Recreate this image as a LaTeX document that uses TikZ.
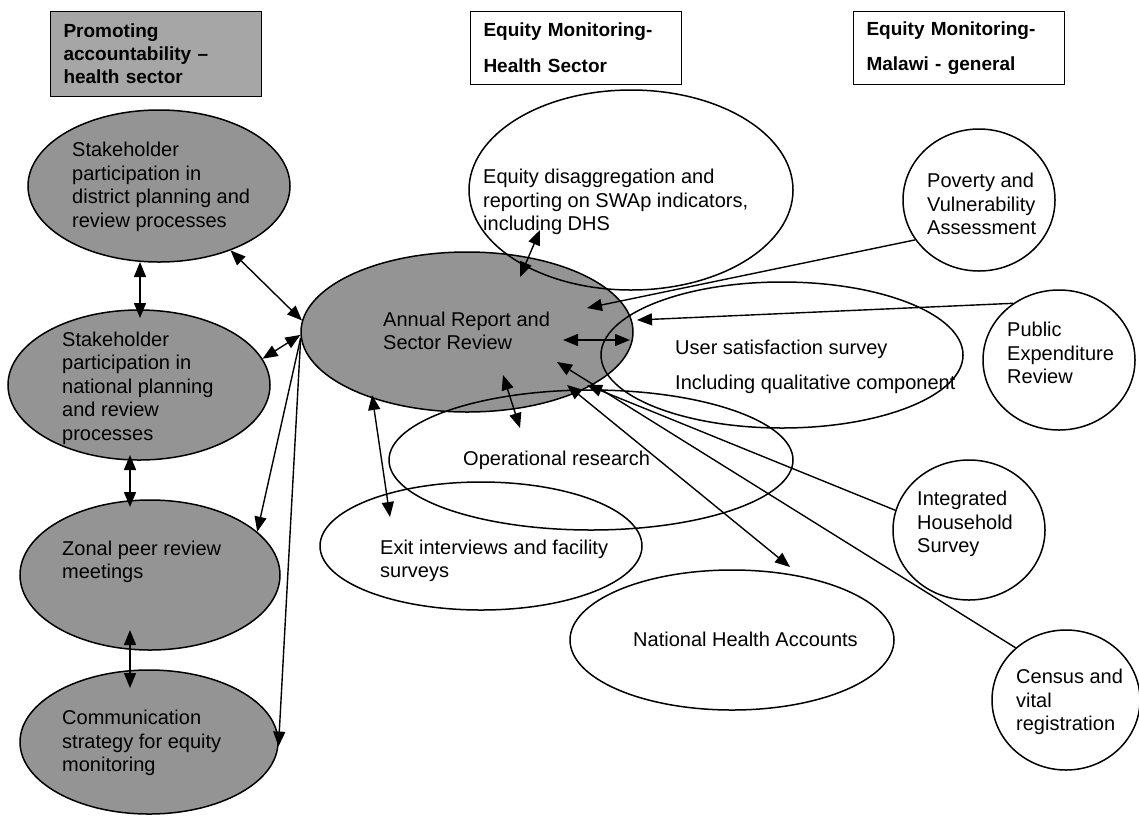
\documentclass[tikz,border=0pt]{standalone}
\usepackage{fontspec}
\setmainfont{Liberation Sans}
\usetikzlibrary{shapes.geometric,arrows.meta}

\tikzset{
  greyblob/.style={ellipse,draw,line width=1.5pt,fill=black!42,inner sep=0pt},
  whiteblob/.style={ellipse,draw,line width=1.5pt,inner sep=0pt},
  headbox/.style={rectangle,draw,line width=1pt,inner xsep=13pt,inner ysep=0pt,text width=185pt,align=left,anchor=north west,font=\fontsize{19}{23}\selectfont\bfseries},
  txt/.style={anchor=west,inner sep=0pt,align=left,font=\fontsize{20}{23.5}\selectfont},
  link/.style={line width=1.4pt,-{Triangle[length=15pt,width=12pt]}},
  links/.style={line width=1.4pt,{Triangle[length=15pt,width=12pt]}-{Triangle[length=15pt,width=12pt]}},
}

\begin{document}
\begin{tikzpicture}[x=1pt,y=-1pt]
\path[use as bounding box] (0,0) rectangle (1139,815);
\node[headbox,fill=black!35,minimum height=85pt] (hdr-acc) at (50,11) {Promoting\\accountability –\\health sector};
\node[headbox,minimum height=73pt,font=\fontsize{19}{36}\selectfont\bfseries] (hdr-hs) at (470,11) {Equity Monitoring-\\Health Sector};
\node[headbox,minimum height=73pt,font=\fontsize{19}{35}\selectfont\bfseries] (hdr-mw) at (853,11) {Equity Monitoring-\\Malawi - general};
\node[greyblob,minimum width=262pt,minimum height=152pt] (distr) at (159,186) {};
\node[greyblob,minimum width=262pt,minimum height=150pt] (natl) at (139,385) {};
\node[greyblob,minimum width=260pt,minimum height=150pt] (zonal) at (150,575) {};
\node[greyblob,minimum width=258pt,minimum height=144pt] (comm) at (149,742) {};
\node[greyblob,minimum width=332pt,minimum height=160pt] (annual) at (467,332) {};
\node[whiteblob,minimum width=324pt,minimum height=200pt] (equity) at (631,190) {};
\node[whiteblob,minimum width=362pt,minimum height=146pt] (usersat) at (782,355) {};
\node[whiteblob,minimum width=404pt,minimum height=140pt] (oper) at (591,460) {};
\node[whiteblob,minimum width=322pt,minimum height=128pt] (exit) at (481,546) {};
\node[whiteblob,minimum width=324pt,minimum height=140pt] (nha) at (732,640) {};
\node[whiteblob,minimum width=152pt,minimum height=142pt] (poverty) at (979,200) {};
\node[whiteblob,minimum width=152pt,minimum height=140pt] (per) at (1059,360) {};
\node[whiteblob,minimum width=152pt,minimum height=140pt] (ihs) at (969,530) {};
\node[whiteblob,minimum width=148pt,minimum height=140pt] (census) at (1066,700) {};
\draw[links] ([shift={(-19,76)}]distr.center) -- ([shift={(1,-67)}]natl.center);
\draw[links] ([shift={(-9,70)}]natl.center) -- ([shift={(-20,-68)}]zonal.center);
\draw[links] ([shift={(-20,55)}]zonal.center) -- ([shift={(-19,-54)}]comm.center);
\draw[links] (distr.-42) -- (annual.176);
\draw[links] (annual.181) -- (natl.12);
\draw[link] (annual.182) -- (zonal.22);
\draw[link] (annual.182) -- (comm.-2);
\draw[links] ([shift={(53,-55)}]annual.center) -- ([shift={(-91,40)}]equity.center);
\draw[links] ([shift={(-95,63)}]annual.center) -- ([shift={(-91,-29)}]exit.center);
\draw[links] ([shift={(36,43)}]annual.center) -- ([shift={(-71,-32)}]oper.center);
\draw[links] ([shift={(96,8)}]annual.center) -- ([shift={(-152,-15)}]usersat.center);
\draw[link] (poverty.-148) -- ([shift={(120,-24)}]annual.center);
\draw[link] (per.129) -- ([shift={(170,-12)}]annual.center);
\draw[link] (ihs.165) -- ([shift={(120,53)}]annual.center);
\draw[link] (census.134) -- ([shift={(90,30)}]annual.center);
\draw[links] ([shift={(100,53)}]annual.center) -- ([shift={(58,-73)}]nha.center);
\node[txt] (distr-t) at (72,187) {Stakeholder\\participation in\\district planning and\\review processes};
\node[txt] (natl-t) at (62,388) {Stakeholder\\participation in\\national planning\\and review\\processes};
\node[txt] (zonal-t) at (62,562) {Zonal peer review\\meetings};
\node[txt] (comm-t) at (62,743) {Communication\\strategy for equity\\monitoring};
\node[txt] (annual-t) at (383,331) {Annual Report and\\Sector Review};
\node[txt] (equity-t) at (483,202) {Equity disaggregation and\\reporting on SWAp indicators,\\including DHS};
\node[txt,font=\fontsize{20}{35}\selectfont] (usersat-t) at (675,367) {User satisfaction survey\\Including qualitative component};
\node[txt] (oper-t) at (463,460) {Operational research};
\node[txt] (exit-t) at (380,561) {Exit interviews and facility\\surveys};
\node[txt] (nha-t) at (633,639) {National Health Accounts};
\node[txt] (poverty-t) at (927,204) {Poverty and\\Vulnerability\\Assessment};
\node[txt] (per-t) at (1007,353) {Public\\Expenditure\\Review};
\node[txt] (ihs-t) at (917,524) {Integrated\\Household\\Survey};
\node[txt] (census-t) at (1016,702) {Census and\\vital\\registration};
\end{tikzpicture}
\end{document}
